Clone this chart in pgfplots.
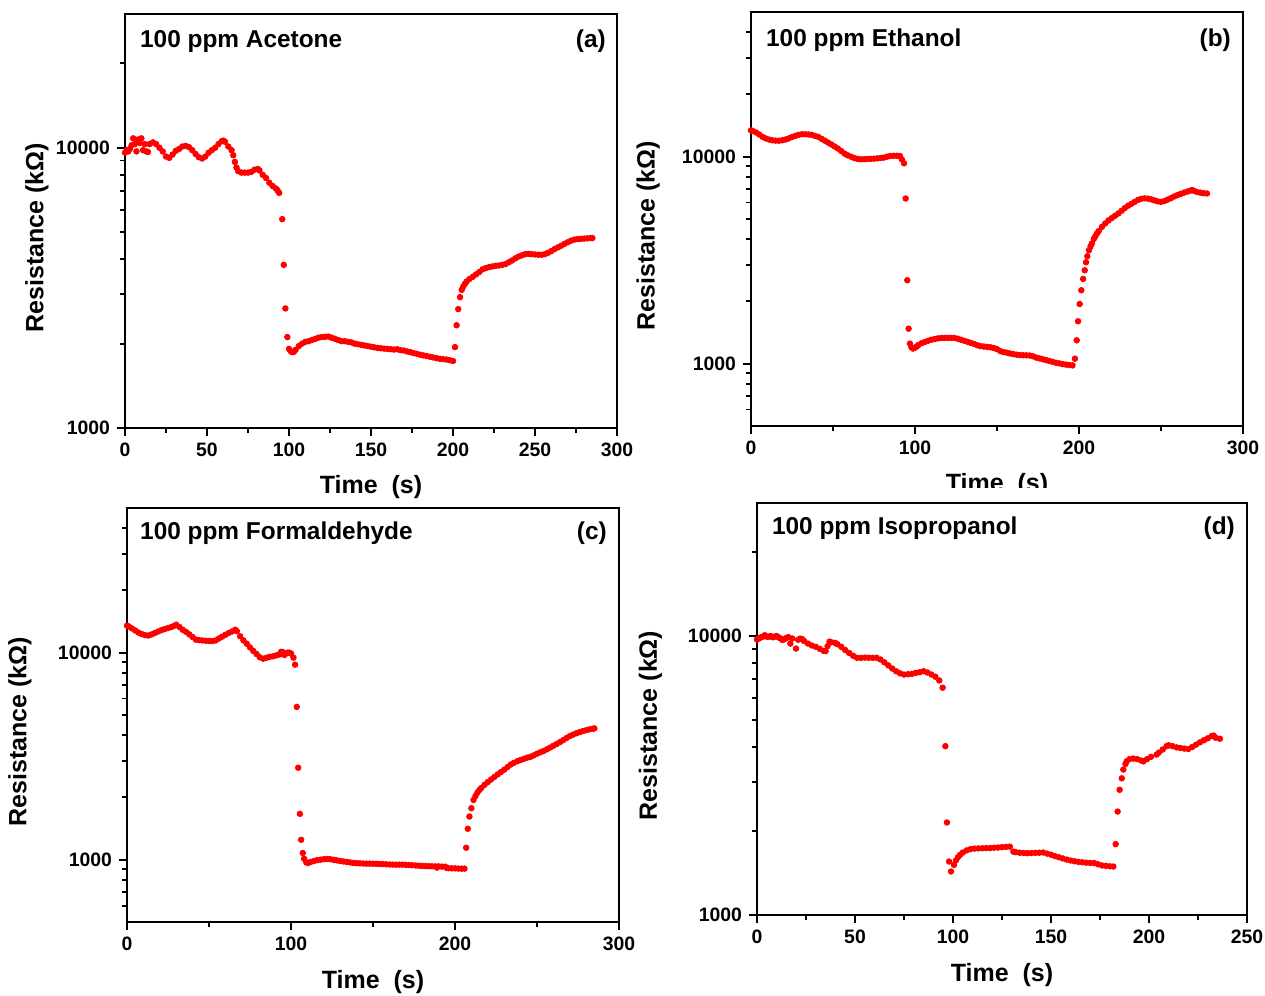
\documentclass[border=0pt]{standalone}
\usepackage{fontspec}
\setmainfont{Liberation Sans}
\usepackage{pgfplots}
\usepackage{pgfplotstable}
\pgfplotsset{compat=1.18}

\pgfplotstableread{
t R
0 9600
1 9800
2 9700
3 9900
4 10200
5 10800
6 10300
7 9700
8 10700
9 10400
10 10800
11 9800
12 10300
13 9700
14 9650
15 10300
17 10450
19 10300
21 10000
23 9700
25 9300
27 9200
29 9450
31 9750
33 9900
35 10100
37 10150
39 10050
41 9800
43 9500
45 9250
47 9150
49 9300
51 9600
53 9800
55 10000
57 10300
59 10550
60 10600
61 10500
63 10100
65 9800
66 9400
67 8900
68 8500
69 8250
71 8150
73 8150
75 8150
77 8200
79 8350
81 8400
82 8300
84 8000
86 7800
88 7500
90 7300
92 7150
93 7050
94 6900
95.9 5560
96.8 3820
97.8 2670
99 2110
100 1915
101 1880
102 1864
103 1870
104 1900
106 1960
108 2000
110 2030
112 2040
114 2060
116 2080
118 2100
120 2110
122 2115
124 2120
126 2100
128 2080
130 2060
132 2040
134 2040
136 2030
138 2020
140 2000
142 1990
144 1980
146 1970
148 1960
150 1950
152 1940
154 1930
156 1925
158 1920
160 1915
162 1910
164 1905
166 1910
168 1895
170 1890
172 1875
174 1865
176 1850
178 1840
180 1825
182 1815
184 1806
186 1795
188 1785
190 1775
192 1765
194 1760
196 1755
198 1745
200 1734
201.2 1944
202.2 2326
203.2 2655
204.3 2930
205.3 3110
206.3 3200
207.3 3270
208.3 3330
210 3400
212 3460
214 3530
216 3600
218 3680
220 3720
222 3750
224 3770
226 3790
228 3800
230 3820
232 3845
234 3900
236 3960
238 4030
240 4090
242 4130
244 4170
246 4180
248 4170
250 4160
252 4150
254 4150
256 4170
258 4220
260 4280
262 4350
264 4410
266 4470
268 4540
270 4600
272 4660
274 4700
276 4720
278 4730
280 4740
282 4750
284 4760
285 4760
}\dataA

\pgfplotstableread{
t R
0 13400
1 13300
3 13100
5 12800
7 12470
9 12250
11 12100
13 12000
15 11950
17 11940
19 12000
21 12100
23 12250
25 12450
27 12600
29 12750
31 12830
33 12830
35 12800
37 12750
39 12600
41 12470
43 12200
45 11950
47 11700
49 11450
51 11200
53 10950
55 10650
57 10350
59 10150
61 10000
63 9850
65 9750
67 9710
69 9720
71 9750
73 9760
75 9780
77 9810
79 9850
81 9900
83 10000
85 10080
87 10100
89 10100
90.8 10070
92 9700
93.3 9290
94.3 6280
95.3 2530
96.1 1476
96.9 1250
97.8 1200
98.8 1183
100 1195
101 1210
102 1230
104 1255
106 1273
108 1290
110 1305
112 1315
114 1325
116 1330
118 1331
120 1332
122 1333
124 1331
126 1320
128 1305
130 1290
132 1275
134 1260
136 1245
138 1227
140 1215
142 1210
144 1205
146 1200
148 1190
150 1175
152 1150
154 1138
156 1130
158 1120
160 1112
162 1105
164 1100
166 1098
168 1097
170 1095
172 1085
174 1070
176 1060
178 1050
180 1040
182 1030
184 1020
186 1010
188 1003
190 995
192 990
194 985
196 981
197.5 1057
198.6 1297
199.4 1603
200.4 1942
201.4 2263
202.5 2567
203.5 2826
204.3 3090
205.1 3303
206.1 3530
207 3680
207.8 3808
209 4000
210 4130
211 4260
212 4370
214 4580
216 4757
218 4920
220 5050
222 5180
224 5317
226 5480
228 5650
230 5800
232 5920
234 6050
236 6180
238 6260
240 6290
242 6270
244 6220
246 6150
248 6080
250 6050
252 6100
254 6200
256 6300
258 6420
260 6520
262 6610
264 6700
266 6780
268 6860
269 6890
270 6850
272 6750
274 6700
276 6660
278 6640
}\dataB

\pgfplotstableread{
t R
0 13500
1 13400
3 13100
5 12800
7 12500
9 12300
11 12150
13 12100
15 12250
17 12450
19 12650
21 12850
23 13000
25 13150
27 13300
29 13500
30 13650
32 13300
34 12900
36 12600
38 12250
40 11900
42 11560
44 11500
46 11450
48 11420
50 11400
52 11380
54 11450
56 11700
58 11950
60 12200
62 12450
64 12650
66 12900
67 12700
69 12000
71 11460
73 11050
75 10600
77 10200
79 9850
81 9500
83 9350
85 9450
87 9550
89 9600
91 9700
93 9800
94 10100
95 10070
96 9750
97 9900
98 10000
99 10000
100.1 9890
101.5 9460
102.5 8750
103.5 5470
104.4 2780
105.4 1665
106.2 1248
107.2 1077
108 1010
109.3 970
110.5 965
112 975
114 985
116 995
118 1000
120 1005
122 1008
124 1005
126 998
128 992
130 985
132 980
134 975
136 970
138 964
140 962
142 960
144 958
146 957
148 957
150 956
152 955
154 953
156 952
158 950
160 948
162 947
164 946
166 946
168 946
170 944
172 942
174 940
176 937
178 935
180 933
182 931
184 930
186 929
188 928
189 916
190 928
192 926
194 925
195 912
196 910
198 908
200 908
202 906
204 905
205.8 905
206.8 1142
207.8 1410
208.8 1616
210 1773
211.3 1944
212.5 2030
213.7 2110
214.9 2173
216 2220
218 2300
220 2370
222 2440
224 2510
226 2580
228 2650
230 2720
232 2800
234 2880
236 2940
238 2990
240 3030
242 3070
244 3110
246 3140
248 3190
250 3250
252 3300
254 3350
256 3410
258 3480
260 3550
262 3620
264 3700
266 3780
268 3870
270 3954
272 4020
274 4080
276 4130
278 4180
280 4220
282 4260
284 4290
285 4306
}\dataC

\pgfplotstableread{
t R
0 9730
1 9800
2 9900
3 9950
4 10070
5 9950
6 9950
7 10000
8 9900
9 9950
10 10000
11 9900
12 9800
13 9680
14 9750
15 9850
16 9910
17 9400
18 9800
19.9 9020
21 9700
22 9790
23 9750
24 9600
26 9400
28 9250
30 9150
32 9000
34 8850
35 8830
36 9200
37 9550
38 9500
39.8 9460
41 9350
43 9150
45 8910
47 8700
49 8500
51 8360
53 8350
55 8370
57 8360
59 8350
61 8360
63 8240
65 8050
67 7850
69 7650
71 7480
73 7350
75 7280
77 7300
79 7320
81 7380
83 7420
85 7480
87 7400
89 7280
91 7150
93 6930
94.7 6530
96.1 4030
96.9 2146
98 1555
99 1432
100.5 1513
101.5 1570
102.5 1610
103.6 1643
105 1675
107 1705
109 1723
111 1730
113 1733
115 1735
117 1737
119 1738
121 1742
123 1745
125 1750
127 1755
129 1758
130.8 1687
132 1680
134 1672
136 1668
138 1666
140 1668
142 1670
144 1672
146 1675
148 1660
150 1645
152 1625
154 1611
156 1595
158 1580
160 1568
162 1558
164 1550
166 1545
168 1540
170 1537
172 1535
174 1520
176 1505
178 1500
180 1495
181.8 1492
183 1795
184 2349
185 2811
186.1 3091
186.9 3321
188 3480
188.6 3555
190 3620
192 3637
194 3620
196 3580
197.1 3555
199 3620
201 3690
203.9 3759
205 3820
207 3920
209 4030
210 4059
212 4030
214.1 3990
216 3970
218 3950
220 3937
222 4000
224 4080
226 4159
228 4230
230 4300
232 4380
233 4397
234 4320
236.2 4285
}\dataD

\pgfplotsset{
  /pgfplots/mypanel/.style={
    scale only axis,
    clip=false,
    axis line style={line width=1pt},
    xtick pos=lower, ytick pos=left,
    tick align=outside,
    major tick length=4pt, minor tick length=2.6pt,
    every tick/.style={black, line width=0.9pt},
    ytick={1000,10000},
    yticklabels={1000,10000},
    ticklabel style={font=\bfseries\fontsize{9.7}{11}\selectfont},
    label style={font=\bfseries\fontsize{12.5}{14}\selectfont},
    xlabel={Time~~(s)},
    ylabel={Resistance (kΩ)},
  },
}
\newcommand{\ttl}[1]{\bfseries\fontsize{12.2}{14}\selectfont #1}

\begin{document}
\begin{tikzpicture}
\useasboundingbox (0,0) rectangle (632.5pt,498pt);

% (a)
\begin{axis}[mypanel, ymode=log, at={(62.5pt,284pt)}, anchor=south west,
  width=246pt, height=207pt,
  xmin=0, xmax=300, ymin=1000, ymax=30000,
  xtick={0,50,100,150,200,250,300},
  xticklabels={0,50,100,150,200,250,300},
  minor xtick={25,75,125,175,225,275},
  minor ytick={2000,3000,4000,5000,6000,7000,8000,9000,20000},
  xlabel style={at={(axis description cs:0.5,-0.1425)}, anchor=center},
  ylabel style={at={(axis description cs:-0.179,0.46)}, anchor=center},
]
\addplot[only marks, mark=*, mark size=1.4pt, color=red] table[x=t,y=R] {\dataA};
\node[anchor=west, inner sep=0pt] at (axis description cs:0.03,0.934) {\ttl{100 ppm Acetone}};
\node[anchor=east, inner sep=0pt] at (axis description cs:0.978,0.934) {\ttl{(a)}};
\end{axis}

% (b)
\begin{axis}[mypanel, ymode=log, at={(375.5pt,285pt)}, anchor=south west,
  width=246pt, height=207pt,
  xmin=0, xmax=300, ymin=500, ymax=50000,
  xtick={0,100,200,300},
  xticklabels={0,100,200,300},
  minor xtick={50,150,250},
  minor ytick={600,700,800,900,2000,3000,4000,5000,6000,7000,8000,9000,20000,30000,40000},
  xlabel style={at={(axis description cs:0.5,-0.1425)}, anchor=center},
  ylabel style={at={(axis description cs:-0.209,0.46)}, anchor=center},
]
\addplot[only marks, mark=*, mark size=1.4pt, color=red] table[x=t,y=R] {\dataB};
\node[anchor=west, inner sep=0pt] at (axis description cs:0.03,0.932) {\ttl{100 ppm Ethanol}};
\node[anchor=east, inner sep=0pt] at (axis description cs:0.976,0.932) {\ttl{(b)}};
\end{axis}

\fill[white] (315pt,246.6pt) rectangle (632.5pt,254pt);

% (c)
\begin{axis}[mypanel, ymode=log, at={(63.5pt,37pt)}, anchor=south west,
  width=246pt, height=207pt,
  xmin=0, xmax=300, ymin=500, ymax=50000,
  xtick={0,100,200,300},
  xticklabels={0,100,200,300},
  minor xtick={50,150,250},
  minor ytick={600,700,800,900,2000,3000,4000,5000,6000,7000,8000,9000,20000,30000,40000},
  xlabel style={at={(axis description cs:0.5,-0.145)}, anchor=center},
  ylabel style={at={(axis description cs:-0.2175,0.46)}, anchor=center},
]
\addplot[only marks, mark=*, mark size=1.4pt, color=red] table[x=t,y=R] {\dataC};
\node[anchor=west, inner sep=0pt] at (axis description cs:0.026,0.94) {\ttl{100 ppm Formaldehyde}};
\node[anchor=east, inner sep=0pt] at (axis description cs:0.976,0.94) {\ttl{(c)}};
\end{axis}

% (d)
\begin{axis}[mypanel, ymode=log, at={(378.5pt,40.5pt)}, anchor=south west,
  width=245pt, height=206pt,
  xmin=0, xmax=250, ymin=1000, ymax=30000,
  xtick={0,50,100,150,200,250},
  xticklabels={0,50,100,150,200,250},
  minor xtick={25,75,125,175,225},
  minor ytick={2000,3000,4000,5000,6000,7000,8000,9000,20000},
  xlabel style={at={(axis description cs:0.5,-0.145)}, anchor=center},
  ylabel style={at={(axis description cs:-0.2175,0.46)}, anchor=center},
]
\addplot[only marks, mark=*, mark size=1.4pt, color=red] table[x=t,y=R] {\dataD};
\node[anchor=west, inner sep=0pt] at (axis description cs:0.03,0.94) {\ttl{100 ppm Isopropanol}};
\node[anchor=east, inner sep=0pt] at (axis description cs:0.976,0.94) {\ttl{(d)}};
\end{axis}
\end{tikzpicture}
\end{document}
